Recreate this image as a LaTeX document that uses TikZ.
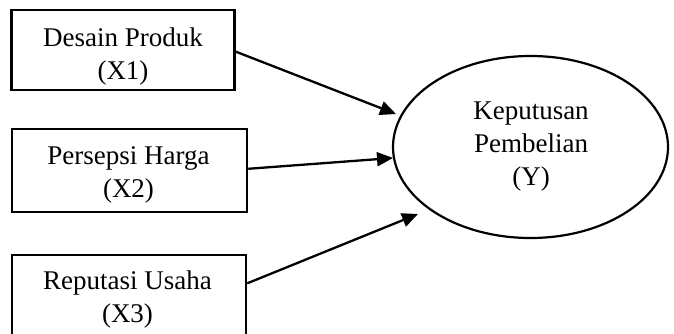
\documentclass[tikz,border=0pt]{standalone}
\usepackage{fontspec}
\setmainfont{Liberation Serif}
\usetikzlibrary{arrows.meta,shapes.geometric,calc}
\begin{document}
\begin{tikzpicture}[x=1pt,y=-1pt,
  boxshape/.style={draw,line width=2.5pt,rectangle,inner sep=0pt},
  lbl/.style={font=\fontsize{27}{33}\selectfont,anchor=base,inner sep=0pt,align=center},
  arr/.style={line width=2.3pt,-{Triangle[length=16pt,width=14pt]}}]
\clip (0,0) rectangle (674,334);
\useasboundingbox (0,0) rectangle (674,334);
\node[boxshape,minimum width=223pt,minimum height=80pt] (b1) at (123,50) {};
\node[boxshape,minimum width=235pt,minimum height=83pt] (b2) at (129.5,170.5) {};
\node[boxshape,minimum width=234pt,minimum height=82pt] (b3) at (129,296) {};
\node[draw,ellipse,line width=2.2pt,inner sep=0pt,minimum width=275pt,minimum height=182pt] (y) at (530.5,147) {};
\node[lbl] (t1) at (123,80) {Desain Produk\\(X1)};
\node[lbl] (t2) at (128.5,197) {Persepsi Harga\\(X2)};
\node[lbl] (t3) at (127.5,322) {Reputasi Usaha\\(X3)};
\node[lbl] (ty) at (531,185) {Keputusan\\Pembelian\\(Y)};
\coordinate (e1) at (396,114);
\coordinate (e2) at (393,158);
\coordinate (e3) at (418,214);
\draw[arr] ($(b1.north east)!0.52!(b1.south east)$) -- (e1);
\draw[arr] ($(b2.north east)!0.48!(b2.south east)$) -- (e2);
\draw[arr] ($(b3.north east)!0.35!(b3.south east)$) -- (e3);
\end{tikzpicture}
\end{document}
